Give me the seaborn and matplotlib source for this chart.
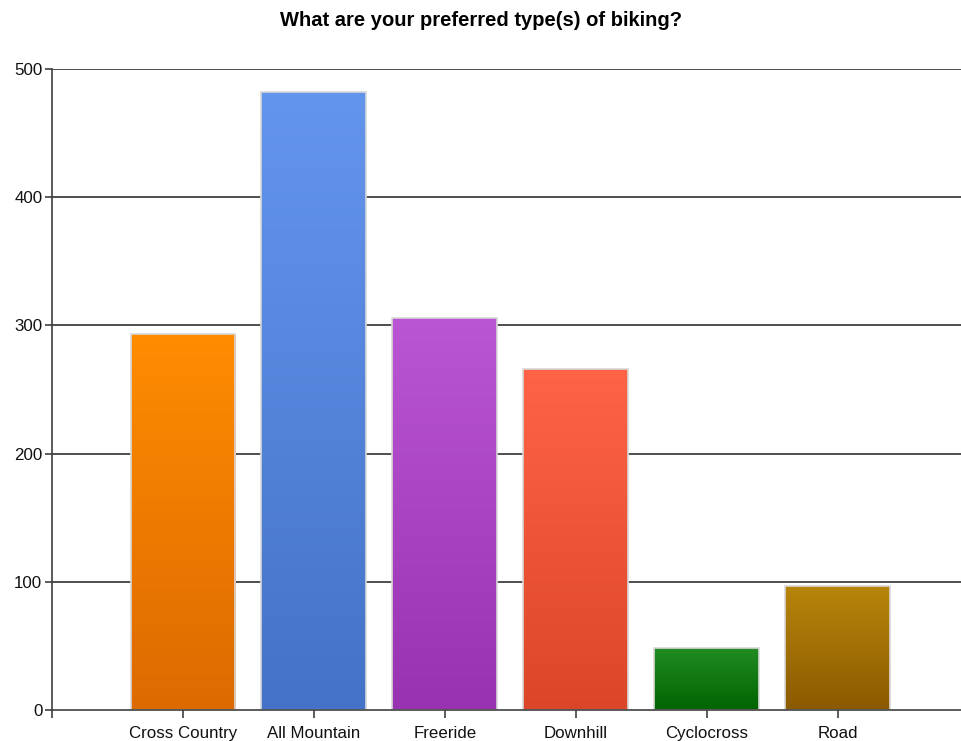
import numpy as np
import seaborn as sns
import matplotlib.pyplot as plt
from matplotlib.colors import LinearSegmentedColormap

# --- Data ---
bike_types = ["Cross Country", "All Mountain", "Freeride", "Downhill", "Cyclocross", "Road"]
counts = [293, 482, 306, 266, 48, 97]
top_colors = ["#FF8C00", "#6495ED", "#BA55D3", "#FF6347", "#228B22", "#B8860B"]
bottom_colors = ["#DC6A00", "#4472C8", "#9932B0", "#DC4628", "#006400", "#8B5A00"]
y_ticks = [0, 100, 200, 300, 400, 500]

sns.set_style("white")
plt.rcParams["font.family"] = ["Liberation Sans", "DejaVu Sans"]

fig = plt.figure(figsize=(9.62, 7.41), dpi=100)
ax = fig.add_axes([52 / 962, 31 / 741, 1 - 52 / 962, (710 - 69) / 741])

sns.barplot(x=bike_types, y=counts, order=bike_types, width=0.8,
            color="white", ax=ax, zorder=3)

# gradient fill clipped to each bar
for patch, c_top, c_bot in zip(ax.patches, top_colors, bottom_colors):
    x0, y0 = patch.get_x(), patch.get_y()
    w, h = patch.get_width(), patch.get_height()
    cmap = LinearSegmentedColormap.from_list("g", [c_bot, c_top])
    grad = np.linspace(0, 1, 256).reshape(-1, 1)
    im = ax.imshow(grad, cmap=cmap, origin="lower", aspect="auto",
                   extent=[x0, x0 + w, y0, y0 + h], zorder=3.5)
    im.set_clip_path(patch)
    patch.set_facecolor("none")
    patch.set_edgecolor("#D8D8D8")
    patch.set_linewidth(1.2)
    patch.set_zorder(4)

ax.set_xlim(-1, 5.95)
ax.set_ylim(0, 500)

# gridlines
for v in y_ticks[1:]:
    ax.axhline(v, color="#303030", lw=1.2, zorder=1)

ax.set_yticks(y_ticks)
ax.set_yticklabels([str(v) for v in y_ticks], fontsize=12.2, color="#111111")
ax.set_xticks([-1] + list(range(len(bike_types))))
ax.set_xticklabels([""] + bike_types, fontsize=12.2, color="#111111")
ax.tick_params(axis="x", bottom=True, direction="out", length=6, width=1.2,
               color="#404040", pad=14)
ax.tick_params(axis="y", left=True, direction="out", length=5, width=1.2,
               color="#404040", pad=2)
for lab in ax.get_xticklabels():
    lab.set_va("baseline")
ax.set_xlabel("")
ax.set_ylabel("")

for side in ["top", "right"]:
    ax.spines[side].set_visible(False)
for side in ["left", "bottom"]:
    ax.spines[side].set_color("#404040")
    ax.spines[side].set_linewidth(1.2)
    ax.spines[side].set_zorder(5)

fig.text(0.5, 1 - 20 / 741, "What are your preferred type(s) of biking?",
         ha="center", va="center", fontsize=14.5, fontweight="bold", color="black")

fig.savefig("out.png", dpi=100)
